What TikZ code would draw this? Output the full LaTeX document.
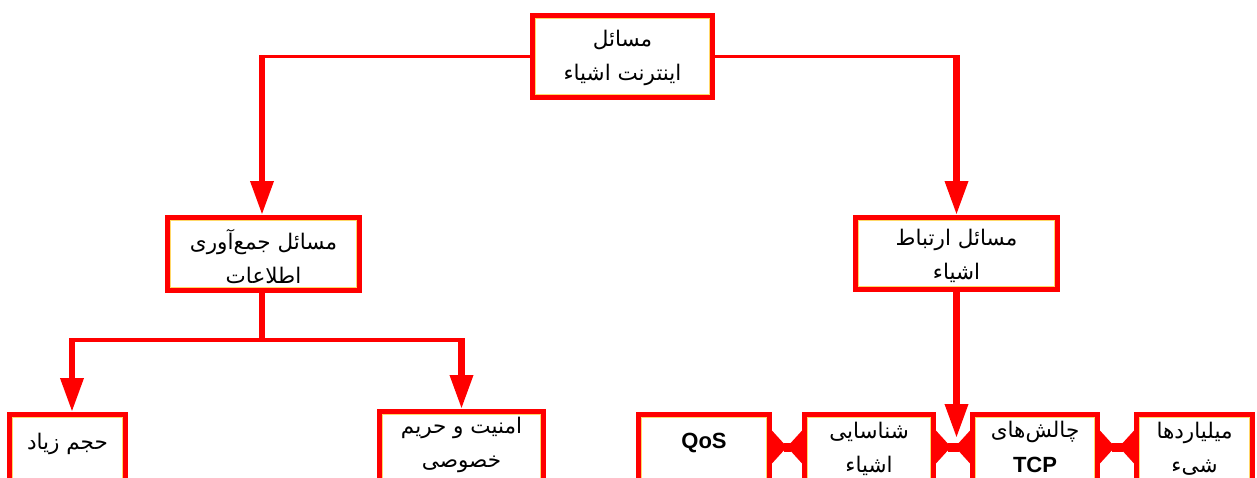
\documentclass[tikz,border=0pt]{standalone}
\usepackage{fontspec}
\usetikzlibrary{arrows.meta}
\TeXXeTstate=1
\newfontfamily\arabicfont[Script=Arabic]{DejaVu Sans}
\newfontfamily\latinfont{Liberation Sans}
\definecolor{boxred}{RGB}{255,0,0}
\definecolor{rimyellow}{RGB}{255,200,40}

\begin{document}
\begin{tikzpicture}[x=1pt,y=-1pt,
  box/.style={draw=boxred, line width=5pt, fill=white, inner sep=0pt,
    path picture={\draw[rimyellow, line width=0.7pt, opacity=0.7]
      ([shift={(2.8pt,2.8pt)}]path picture bounding box.south west) rectangle
      ([shift={(-2.8pt,-2.8pt)}]path picture bounding box.north east);}},
  txt/.style={font=\arabicfont\fontsize{21.5}{34}\selectfont, align=center, inner sep=0pt},
  ltxt/.style={font=\latinfont\bfseries\fontsize{22}{34}\selectfont, inner sep=0pt},
  hline/.style={draw=boxred, line width=3.5pt},
  vline/.style={draw=boxred, line width=6.5pt, -{Triangle[length=34pt,width=22pt]}},
  bowtie/.style={draw=boxred, line width=9pt,
    {Triangle[reversed,length=15pt,width=32pt]}-{Triangle[reversed,length=15pt,width=32pt]}},
]
\useasboundingbox (0,0) rectangle (1257,477);
\clip (0,0) rectangle (1257,477);

% top level
\node[box, minimum width=180pt, minimum height=82pt] (top) at (622.5,56.5) {};
\node[txt] (toptxt) at (622.5,58) {\beginR مسائل\endR\\\beginR اینترنت اشیاء\endR};

% second level
\node[box, minimum width=192pt, minimum height=73pt] (gather) at (263.5,254) {};
\node[txt] (gathertxt) at (263.5,257) {\beginR مسائل جمع‌آوری\endR\\\beginR اطلاعات\endR};

\node[box, minimum width=202pt, minimum height=72pt] (link) at (956.5,253.5) {};
\node[txt] (linktxt) at (956.5,256) {\beginR مسائل ارتباط\endR\\\beginR اشیاء\endR};

% third level (boxes run past the lower edge)
\node[box, minimum width=116pt, minimum height=90pt] (volume) at (67.5,459.5) {};
\node[txt] (volumetxt) at (67.5,444) {\beginR حجم زیاد\endR};

\node[box, minimum width=164pt, minimum height=90pt] (privacy) at (461.5,456.5) {};
\node[txt] (privacytxt) at (461.5,445) {\beginR امنیت و حریم\endR\\\beginR خصوصی\endR};

\node[box, minimum width=131pt, minimum height=90pt] (qos) at (704,459.5) {};
\node[ltxt] (qostxt) at (704,443) {QoS};

\node[box, minimum width=129pt, minimum height=90pt] (ident) at (869,459.5) {};
\node[txt] (identtxt) at (869,449) {\beginR شناسایی\endR\\\beginR اشیاء\endR};

\node[box, minimum width=125pt, minimum height=90pt] (tcp) at (1035,459.5) {};
\node[txt] (tcptxt1) at (1035,432) {\beginR چالش‌های\endR};
\node[ltxt] (tcptxt2) at (1035,465) {TCP};

\node[box, minimum width=116pt, minimum height=90pt] (billion) at (1194.5,459.5) {};
\node[txt] (billiontxt) at (1194.5,449) {\beginR میلیاردها\endR\\\beginR شیء\endR};

% connectors from the root
\coordinate (lturn) at (top.west -| 262,0);
\coordinate (rturn) at (top.east -| link.north);
\draw[hline] (top.west) -- ([xshift=-3pt]lturn);
\draw[vline] (lturn) -- (gather.north -| lturn);
\draw[hline] (top.east) -- ([xshift=3pt]rturn);
\draw[vline] (rturn) -- (link.north);

% branches of the gathering box
\coordinate (split) at (262,340);
\coordinate (splitl) at (volume.north -| 72,0);
\draw[draw=boxred, line width=6.5pt] (gather.south -| split) -- (split);
\draw[hline] ([xshift=-3pt]split -| splitl) -- ([xshift=3pt]split -| privacy.north);
\draw[vline] (split -| splitl) -- (splitl);
\draw[vline] (split -| privacy.north) -- (privacy.north);

% row of the linking box
\draw[bowtie] (qos.east |- 0,447) -- (ident.west |- 0,447);
\draw[bowtie] (ident.east |- 0,447) -- (tcp.west |- 0,447);
\draw[bowtie] (tcp.east |- 0,447) -- (billion.west |- 0,447);
\draw[vline] (link.south) -- (link.south |- 0,438);
\end{tikzpicture}
\end{document}
